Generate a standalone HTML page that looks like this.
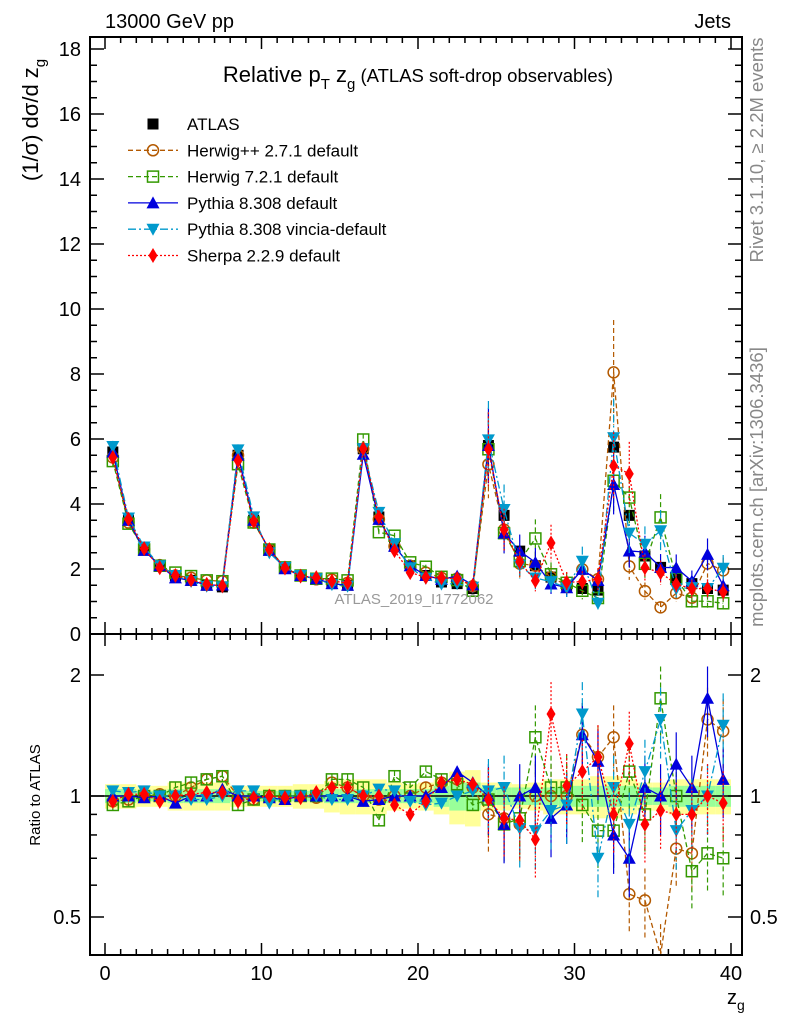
<!DOCTYPE html>
<html><head><meta charset="utf-8"><style>
body{margin:0;background:#fff;}
svg{display:block;font-family:"Liberation Sans",sans-serif;}
</style></head><body>
<svg id="c" width="786" height="1024" viewBox="0 0 786 1024" xmlns="http://www.w3.org/2000/svg">
<rect x="0" y="0" width="786" height="1024" fill="#fff"/>
<g id="bands"></g><g id="marks"></g>
<g id="axes" fill="none" stroke="#000" stroke-width="2"></g>
<text x="105" y="28" font-size="20">13000 GeV pp</text>
<text x="731" y="28" font-size="20" text-anchor="end">Jets</text>
<text x="418" y="82" font-size="22" text-anchor="middle">Relative p<tspan font-size="15" dy="7">T</tspan><tspan dy="-7"> z</tspan><tspan font-size="15" dy="7">g</tspan><tspan dy="-7" font-size="18.5"> (ATLAS soft-drop observables)</tspan></text>
<text x="414" y="604" font-size="15" fill="#999" text-anchor="middle">ATLAS_2019_I1772062</text>
<text transform="translate(763,150) rotate(-90)" font-size="18.5" fill="#888" text-anchor="middle">Rivet 3.1.10, ≥ 2.2M events</text>
<text transform="translate(763,487) rotate(-90)" font-size="18.5" fill="#888" text-anchor="middle">mcplots.cern.ch [arXiv:1306.3436]</text>
<text transform="translate(38,120) rotate(-90)" font-size="22" text-anchor="middle">(1/σ) dσ/d z<tspan font-size="15" dy="7">g</tspan></text>
<text transform="translate(40,795) rotate(-90)" font-size="15" text-anchor="middle">Ratio to ATLAS</text>
<text x="727" y="1004" font-size="20">z<tspan font-size="14" dy="6">g</tspan></text>
<g id="legend"></g>
</svg>
<script>
const data=[5.6,3.5,2.6,2.1,1.8,1.65,1.5,1.45, 5.5,3.5,2.6,2.05,1.8,1.7,1.55,1.5, 5.7,3.6,2.7,2.1,1.8,1.6,1.55,1.4, 5.8,3.65,2.55,2.1,1.75,1.5,1.4,1.35, 5.75,3.65,2.4,2.05,1.7,1.55,1.4,1.35];
const herwigpp=[0.97,0.98,1.0,1.01,1.0,1.05,1.1,1.12, 1.0,0.98,1.0,1.0,1.0,0.99,1.08,1.05, 1.0,0.98,1.0,1.0,1.05,1.08,1.1,1.05, 0.9,0.88,0.85,1.0,1.0,1.0,1.42,1.25, 1.4,0.57,0.55,0.4,0.74,0.72,1.55,1.45];
const herwig7=[0.95,0.97,1.0,1.0,1.05,1.08,1.1,1.12, 0.95,0.98,1.0,1.0,1.0,1.0,1.1,1.1, 1.05,0.87,1.12,1.05,1.15,1.1,1.07,0.95, 0.98,0.85,0.88,1.4,1.05,1.05,0.95,0.82, 0.82,1.15,0.9,1.75,1.0,0.65,0.72,0.7];
const pythia=[1.0,1.0,0.99,1.0,0.96,1.0,1.0,1.04, 1.0,1.0,0.99,0.98,1.0,1.0,1.0,1.0, 0.97,0.98,1.0,1.0,1.0,1.05,1.15,1.08, 1.0,0.85,1.0,1.05,0.88,0.95,1.42,1.22, 0.8,0.7,1.05,1.0,1.2,1.05,1.75,1.1];
const vincia=[1.03,1.02,1.03,1.0,1.0,0.98,0.98,1.0, 1.03,1.03,0.96,1.0,1.0,1.0,0.98,0.98, 1.0,1.04,1.03,0.97,0.95,0.96,1.0,1.03, 1.03,1.05,0.83,0.82,0.92,0.95,1.6,0.7, 1.05,0.85,1.15,1.55,0.82,0.92,1.0,1.5];
const sherpa=[0.97,1.01,1.01,0.97,1.0,1.01,1.02,1.02, 0.97,0.99,1.0,0.99,0.99,1.02,1.05,1.05, 1.0,1.0,0.95,0.9,0.97,1.08,1.1,1.07, 0.98,0.88,0.87,0.78,1.6,1.06,1.15,1.25, 0.9,1.35,0.85,0.92,0.9,0.9,1.0,0.96];
const bandTot=[0.07,0.07,0.06,0.06,0.08,0.08,0.08,0.08, 0.06,0.06,0.06,0.06,0.07,0.07,0.09,0.1, 0.1,0.1,0.08,0.07,0.08,0.1,0.15,0.16, 0.08,0.08,0.07,0.08,0.1,0.1,0.1,0.12, 0.12,0.1,0.08,0.08,0.1,0.1,0.1,0.1];
const bandStat=[0.04,0.04,0.03,0.03,0.04,0.04,0.04,0.04, 0.03,0.03,0.03,0.03,0.03,0.03,0.04,0.04, 0.04,0.04,0.04,0.04,0.04,0.06,0.08,0.08, 0.05,0.05,0.05,0.05,0.05,0.06,0.06,0.06, 0.06,0.06,0.05,0.05,0.06,0.06,0.06,0.06];
const xTicks=[0,10,20,30,40];
const yTicks=[0,2,4,6,8,10,12,14,16,18];
const rTicks=[0.5,1,2];

const NS="http://www.w3.org/2000/svg";
const X0=90,X1=742,YT=37,YM=634,YB=955;
const sx=v=>105+v*15.65;
const sy=v=>634-v*32.5;
const sr=r=>796-Math.log2(r)*121;
const clampR=y=>Math.max(YM,Math.min(YB,y));
function mk(tag,attrs,parent){const e=document.createElementNS(NS,tag);for(const k in attrs)e.setAttribute(k,attrs[k]);parent.appendChild(e);return e;}
const bands=document.getElementById('bands'),marks=document.getElementById('marks'),axes=document.getElementById('axes'),legend=document.getElementById('legend');

data.forEach((d,i)=>{
  let r=mk('rect',{x:sx(i),y:sr(1+bandTot[i]),width:15.65,height:sr(1-bandTot[i])-sr(1+bandTot[i]),fill:'#ffff99'},bands);
  
  
  let g=mk('rect',{x:sx(i),y:sr(1+bandStat[i]),width:15.65,height:sr(1-bandStat[i])-sr(1+bandStat[i]),fill:'#99ff99'},bands);
  
  
});
let one=mk('line',{x1:X0,x2:X1,y1:sr(1),y2:sr(1),stroke:'#000','stroke-width':1.5},bands);



function marker(kind,color,x,y,parent){
  let e;
  if(kind==='sq') e=mk('rect',{x:x-5.5,y:y-5.5,width:11,height:11,fill:'#000'},parent);
  else if(kind==='osq') e=mk('rect',{x:x-5.5,y:y-5.5,width:11,height:11,fill:'none',stroke:color,'stroke-width':1.5},parent);
  else if(kind==='oc') e=mk('circle',{cx:x,cy:y,r:5.5,fill:'none',stroke:color,'stroke-width':1.5},parent);
  else if(kind==='tu') e=mk('polygon',{points:`${x-6.5},${y+5.5} ${x+6.5},${y+5.5} ${x},${y-6.5}`,fill:color},parent);
  else if(kind==='td') e=mk('polygon',{points:`${x-6.5},${y-5.5} ${x+6.5},${y-5.5} ${x},${y+6.5}`,fill:color},parent);
  else e=mk('polygon',{points:`${x},${y-7.5} ${x+4.5},${y} ${x},${y+7.5} ${x-4.5},${y}`,fill:color},parent);
  return e;
}
const series=[
 {name:'herwigpp',label:'Herwig++ 2.7.1 default',r:herwigpp,color:'#b35900',dash:'5,3',m:'oc'},
 {name:'herwig7',label:'Herwig 7.2.1 default',r:herwig7,color:'#339900',dash:'5,3',m:'osq'},
 {name:'pythia',label:'Pythia 8.308 default',r:pythia,color:'#0000dd',dash:'',m:'tu'},
 {name:'vincia',label:'Pythia 8.308 vincia-default',r:vincia,color:'#0099cc',dash:'8,3,2,3',m:'td'},
 {name:'sherpa',label:'Sherpa 2.2.9 default',r:sherpa,color:'#ff0000',dash:'2,2',m:'di'}
];
data.forEach((d,i)=>{
  let e=marker('sq','#000',sx(i+0.5),sy(d),marks);
  
  
});
series.forEach(s=>{
  const gt=mk('g',{},marks);
  const top=data.map((d,i)=>[sx(i+0.5),sy(d*s.r[i])]);
  const bot=data.map((d,i)=>[sx(i+0.5),clampR(sr(s.r[i]))]);
  let l1=mk('polyline',{points:top.map(p=>p.join(',')).join(' '),fill:'none',stroke:s.color,'stroke-width':1.3,'stroke-dasharray':s.dash},gt);
  
  
  let l2=mk('polyline',{points:bot.map(p=>p.join(',')).join(' '),fill:'none',stroke:s.color,'stroke-width':1.3,'stroke-dasharray':s.dash},gt);
  
  
  data.forEach((d,i)=>{
    const v=d*s.r[i],ef=i<24?0.03:0.2,x=sx(i+0.5);
    let eb=mk('line',{x1:x,x2:x,y1:sy(v*(1+ef)),y2:sy(v*(1-ef)),stroke:s.color,'stroke-width':1.2,'stroke-dasharray':s.dash},gt);
    
    
    let eb2=mk('line',{x1:x,x2:x,y1:clampR(sr(s.r[i]*(1+ef))),y2:clampR(sr(s.r[i]*(1-ef))),stroke:s.color,'stroke-width':1.2,'stroke-dasharray':s.dash},gt);
    
    
    let m=marker(s.m,s.color,top[i][0],top[i][1],gt);
    
    
    if(sr(s.r[i])>=YM&&sr(s.r[i])<=YB){
      let m2=marker(s.m,s.color,bot[i][0],bot[i][1],gt);
      
      
    }
  });
});
let fr=mk('rect',{x:X0,y:YT,width:X1-X0,height:YB-YT},axes);


let dv=mk('line',{x1:X0,x2:X1,y1:YM,y2:YM},axes);


const tk=mk('g',{'stroke-width':1.5},axes);
for(let v=0;v<=40;v++){
  const x=sx(v),len=v%10===0?12:6;
  [[YM,-1],[YB,-1],[YT,1]].forEach(([y,dir])=>{mk('line',{x1:x,x2:x,y1:y,y2:y+dir*len},tk);});
  mk('line',{x1:x,x2:x,y1:YM,y2:YM+len},tk);
}
for(let v=0;v<=18;v+=0.5){
  const y=sy(v),len=v%2===0?14:7;
  if(y<YT)continue;
  mk('line',{x1:X0,x2:X0+len,y1:y,y2:y},tk);mk('line',{x1:X1,x2:X1-len,y1:y,y2:y},tk);
}
[0.4,0.5,0.6,0.7,0.8,0.9,1,2].forEach(r=>{
  const y=sr(r),len=rTicks.includes(r)?14:7;
  if(y<YM||y>YB)return;
  mk('line',{x1:X0,x2:X0+len,y1:y,y2:y},tk);mk('line',{x1:X1,x2:X1-len,y1:y,y2:y},tk);
});
const svg=document.getElementById('c');
xTicks.forEach(v=>{
  let t=mk('text',{x:sx(v),y:980,'font-size':20,'text-anchor':'middle'},svg);t.textContent=v;
  
  
});
yTicks.forEach(v=>{
  let t=mk('text',{x:81,y:sy(v)+7,'font-size':20,'text-anchor':'end'},svg);t.textContent=v;
  
  
});
rTicks.forEach(v=>{
  let t=mk('text',{x:81,y:sr(v)+7,'font-size':20,'text-anchor':'end'},svg);t.textContent=v;
  
  
  let t2=mk('text',{x:750,y:sr(v)+7,'font-size':20},svg);t2.textContent=v;
  
  
});
const lg=[{label:'ATLAS',m:'sq',color:'#000',dash:null}].concat(series);
lg.forEach((s,k)=>{
  const y=124+k*26.3;
  const g=mk('g',{},legend);
  
  
  if(s.dash!==null) mk('line',{x1:128,x2:178,y1:y,y2:y,stroke:s.color,'stroke-width':1.3,'stroke-dasharray':s.dash},g);
  marker(s.m,s.color,153,y,g);
  const t=mk('text',{x:187,y:y+6,'font-size':17},g);t.textContent=s.label;
});
</script>
</body></html>
